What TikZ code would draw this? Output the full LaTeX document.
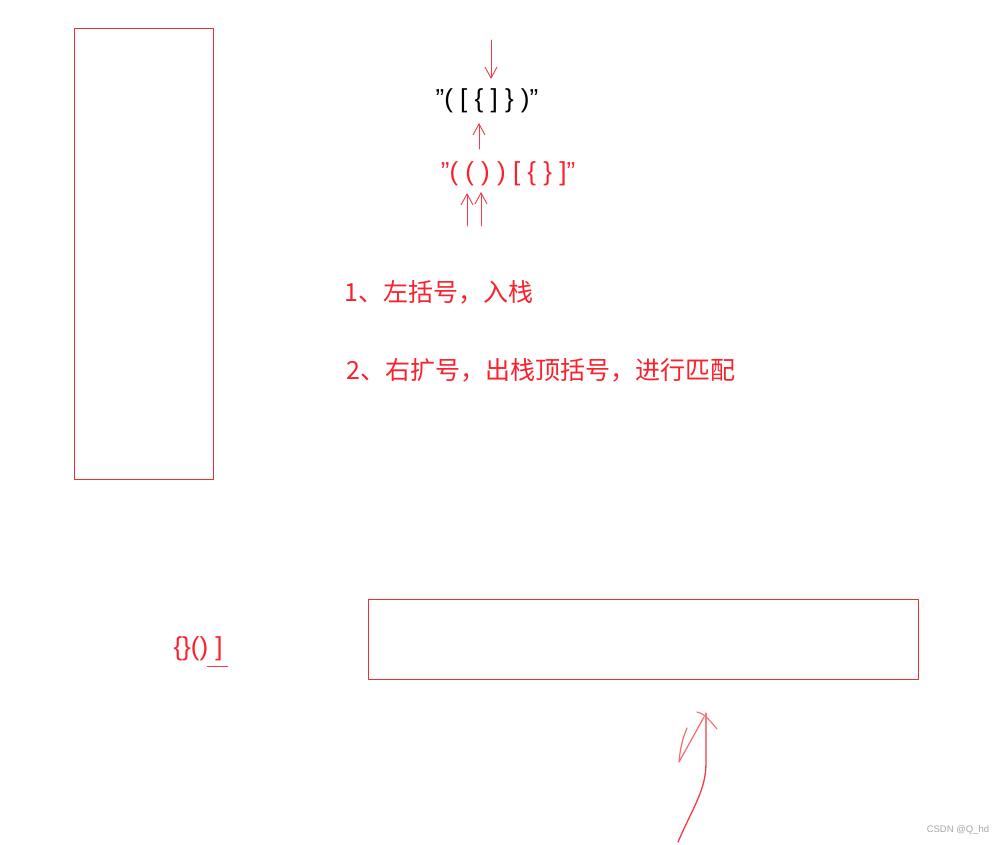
\documentclass[tikz,border=0pt]{standalone}
\usepackage{fontspec}
\setmainfont{Liberation Sans}
\newfontfamily\cjk{Noto Sans CJK SC}
\usetikzlibrary{arrows.meta}
\definecolor{penred}{RGB}{232,48,48}
\definecolor{inkred}{RGB}{250,32,44}
\definecolor{marker}{RGB}{240,60,70}
\newcommand{\qt}{\char34}

\begin{document}
\begin{tikzpicture}[x=1pt, y=-1pt, line join=round, line cap=round,
		box/.style={draw=penred, line width=0.9pt, inner sep=0pt, outer sep=0pt, anchor=north west},
		brk/.style={font=\fontsize{26}{30}\selectfont},
		note/.style={inkred, anchor=west, font=\cjk\fontsize{25}{30}\selectfont},
		pen/.style={marker, line width=0.9pt, -{Straight Barb[length=11pt,width=12pt,line width=0.9pt]}}]
	\useasboundingbox[fill=white] (0,0) rectangle (1003,845);
	% stack and string boxes
	\node[box, minimum width=139pt, minimum height=451pt] (stack) at (74,28) {};
	\node[box, minimum width=550pt, minimum height=80pt] (buffer) at (368,599) {};
	% bracket strings
	\node[brk] (matched) at (487,101) {\qt( [ \{ ] \} )\qt};
	\node[brk, inkred] (input) at (508,174) {\qt( ( ) ) [ \{ \} ]\qt};
	\node[brk, inkred, anchor=west] (rest) at (170,649) {\{\}() ]};
	\draw[marker] (207,666) -- (228,666);
	% rules
	\node[note] (rule1) at (341,292) {1、左括号，入栈};
	\node[note] (rule2) at (343,370) {2、右扩号，出栈顶括号，进行匹配};
	% pointers
	\coordinate (p0) at (491,40);   \coordinate (q0) at (491,79);
	\coordinate (p1) at (479,149);  \coordinate (q1) at (479,123);
	\coordinate (p2) at (467,226);  \coordinate (q2) at (467,193);
	\coordinate (p3) at (481,226);  \coordinate (q3) at (481,192);
	\foreach \i in {0,1,2,3}{
		\draw[pen] (p\i) -- (q\i);}
	% hand drawn arrow under the box
	\coordinate (tail) at (678,842);
	\coordinate (tip) at (706,713);
	\draw[marker, line width=1.3pt] (tail) .. controls (694,805) and (706,790) .. (706,762) -- (tip);
	\draw[marker!75, line width=1.2pt] (687,728) .. controls (682,740) and (680,750) .. (679,762) -- (704,717);
	\draw[marker!75, line width=1.1pt] (697,712) .. controls (703,713) and (708,718) .. (717,729);
	\node[gray!70, font=\fontsize{9.5}{11}\selectfont] (mark) at (958,830) {CSDN @Q\_hd};
\end{tikzpicture}
\end{document}
